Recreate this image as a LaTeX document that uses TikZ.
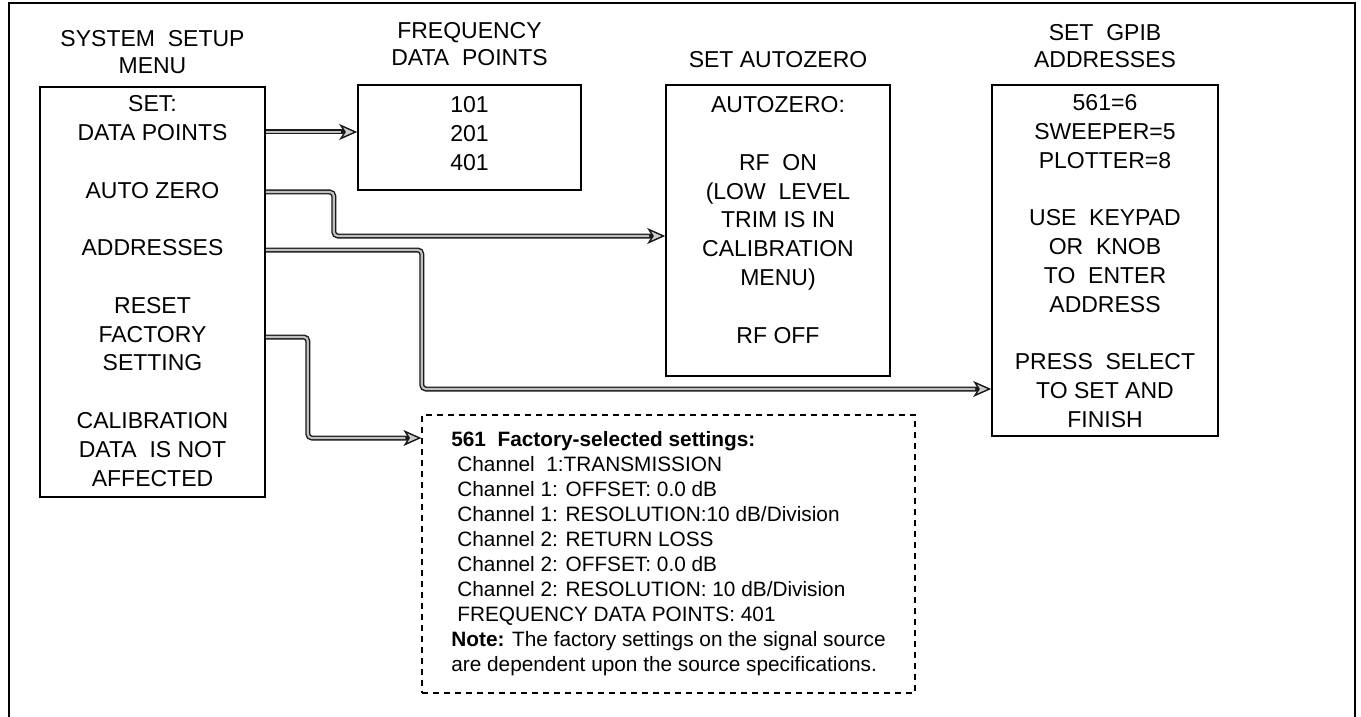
\documentclass[tikz,border=0pt]{standalone}
\usepackage{fontspec}
\setmainfont{Liberation Sans}
\usetikzlibrary{arrows.meta,positioning}

\tikzset{
  box/.style={draw, line width=0.8pt, inner sep=0pt},
  boxtext/.style={align=center, inner sep=0pt, font=\fontsize{11.5}{14.4}\selectfont},
  title/.style={align=center, inner sep=0pt, font=\fontsize{11.5}{13.5}\selectfont},
  link/.style={draw=black!90, line width=2.5pt, rounded corners=2pt,
    -{Stealth[length=9pt, width=8pt, inset=2.5pt, line width=0.7pt, fill=gray!40]},
    postaction={draw=gray!50, line width=1.1pt, -, shorten >=8pt}},
  frame/.style={line width=1.4pt}
}

\begin{document}
\begin{tikzpicture}[x=0.5pt, y=-0.5pt]

  \useasboundingbox (0,0) rectangle (1361,717);
  \draw[frame] (9,717) -- (9,3) -- (1355,3) -- (1355,717);

  % boxes
  \node[box, minimum width=112.5pt, minimum height=205pt]   (menu) at (152.5,292) {};
  \node[box, minimum width=111.5pt, minimum height=52.5pt]  (freq) at (469.5,137.5) {};
  \node[box, minimum width=112pt,   minimum height=145.5pt] (zero) at (778,230.5) {};
  \node[box, minimum width=113pt,   minimum height=175.5pt] (gpib) at (1105,260.5) {};

  % titles
  \node[title, above=6pt of menu] (menu-t) {SYSTEM\ \ SETUP\\MENU};
  \node[title, above=9pt of freq] (freq-t) {FREQUENCY\\DATA\ \ POINTS};
  \node[title, above=8pt of zero] (zero-t) {SET AUTOZERO};
  \node[title, above=8pt of gpib] (gpib-t) {SET\ \ GPIB\\ADDRESSES};

  % box contents
  \node[boxtext, below=4.5pt of menu.north] (menu-x)
    {SET:\\DATA POINTS\\[14.4pt]AUTO ZERO\\[14.4pt]ADDRESSES\\[14.4pt]RESET\\FACTORY\\SETTING\\[14.4pt]CALIBRATION\\DATA\ \ IS NOT\\AFFECTED};
  \node[boxtext, below=6pt of freq.north] (freq-x) {101\\201\\401};
  \node[boxtext, below=6pt of zero.north] (zero-x)
    {AUTOZERO:\\[14.4pt]RF\ \ ON\\(LOW\ \ LEVEL\\TRIM IS IN\\CALIBRATION\\MENU)\\[14.4pt]RF OFF};
  \node[boxtext, below=5pt of gpib.north] (gpib-x)
    {561=6\\SWEEPER=5\\PLOTTER=8\\[14.4pt]USE\ \ KEYPAD\\OR\ \ KNOB\\TO\ \ ENTER\\ADDRESS\\[14.4pt]PRESS\ \ SELECT\\TO SET AND\\FINISH};

  \node[draw, line width=0.6pt, dash pattern=on 3pt off 2.5pt, align=left,
        minimum width=246.5pt, minimum height=139pt,
        font=\fontsize{10.4}{12.5}\selectfont] (fact) at (668.5,554)
    {\textbf{561\ \ Factory-selected settings:}\\
     \hspace*{3pt}Channel\ \ 1:TRANSMISSION\\
     \hspace*{3pt}Channel 1: OFFSET: 0.0 dB\\
     \hspace*{3pt}Channel 1: RESOLUTION:10 dB/Division\\
     \hspace*{3pt}Channel 2: RETURN LOSS\\
     \hspace*{3pt}Channel 2: OFFSET: 0.0 dB\\
     \hspace*{3pt}Channel 2: RESOLUTION: 10 dB/Division\\
     \hspace*{3pt}FREQUENCY DATA POINTS: 401\\
     \textbf{Note:} The factory settings on the signal source\\
     are dependent upon the source specifications.};

  % arrows out of the menu
  \coordinate (dp) at (menu.east |- 0,132);
  \coordinate (az) at (menu.east |- 0,192);
  \coordinate (ad) at (menu.east |- 0,250);
  \coordinate (rs) at (menu.east |- 0,337);

  \draw[link] (dp) -- (freq.west |- dp);
  \draw[link] (az) -- ++(68,0) |- (zero.west |- 0,236);
  \draw[link] (ad) -- ++(156,0) |- (gpib.west |- 0,389);
  \draw[link] (rs) -- ++(42,0) |- (fact.west |- 0,438);

\end{tikzpicture}
\end{document}
